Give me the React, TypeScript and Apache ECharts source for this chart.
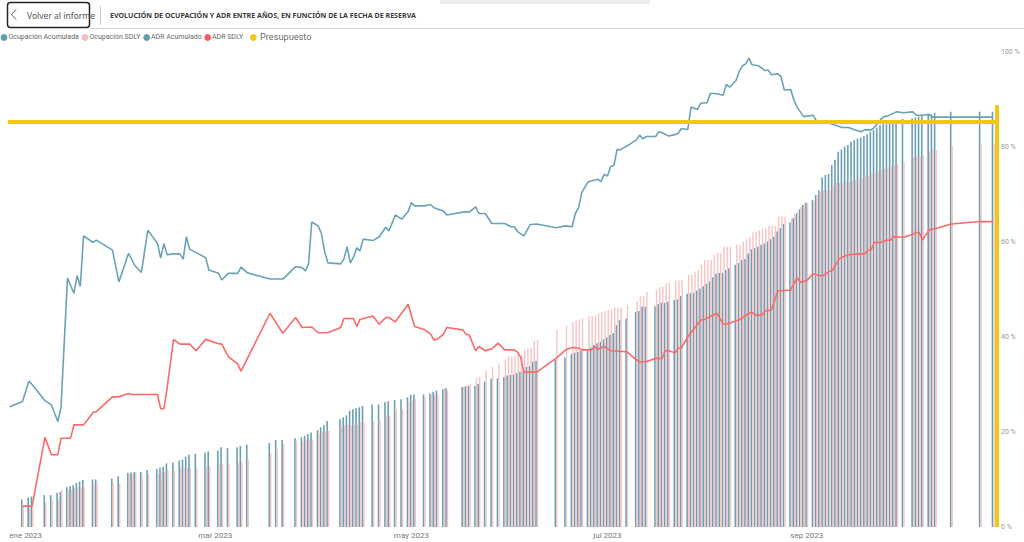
import React, { useEffect, useRef } from "react";
import * as echarts from "echarts";

// ---------- Data ----------
const axisStart = "2022-12-27";
const axisEnd = "2023-10-30";

const barDates = [
  "12-31", "01-02", "01-03", "01-07", "01-09", "01-11", "01-12", "01-14", "01-15", "01-16",
  "01-17", "01-18", "01-19", "01-22", "01-23", "01-28", "01-30", "02-02", "02-03", "02-04",
  "02-06", "02-08", "02-11", "02-12", "02-13", "02-14", "02-16", "02-18", "02-19", "02-20",
  "02-21", "02-23", "02-26", "02-27", "03-02", "03-03", "03-05", "03-08", "03-09", "03-11",
  "03-18", "03-20", "03-22", "03-26", "03-28", "03-29", "03-30", "03-31", "04-02", "04-03",
  "04-04", "04-05", "04-09", "04-10", "04-11", "04-12", "04-13", "04-14", "04-15", "04-16",
  "04-19", "04-21", "04-23", "04-24", "04-26", "04-28", "04-30", "05-01", "05-02", "05-05",
  "05-07", "05-08", "05-09", "05-11", "05-12", "05-17", "05-18", "05-19", "05-21", "05-22",
  "05-24", "05-26", "05-28", "05-30", "05-31", "06-01", "06-02", "06-03", "06-04", "06-05",
  "06-06", "06-07", "06-08", "06-09", "06-15", "06-18", "06-20", "06-21", "06-22", "06-23",
  "06-25", "06-26", "06-27", "06-28", "06-29", "06-30", "07-01", "07-02", "07-03", "07-04",
  "07-05", "07-07", "07-10", "07-11", "07-12", "07-13", "07-16", "07-17", "07-18", "07-19",
  "07-20", "07-22", "07-23", "07-24", "07-26", "07-27", "07-28", "07-29", "07-30", "07-31",
  "08-01", "08-02", "08-03", "08-04", "08-05", "08-06", "08-07", "08-08", "08-10", "08-11",
  "08-12", "08-13", "08-14", "08-15", "08-16", "08-17", "08-18", "08-19", "08-20", "08-21",
  "08-22", "08-23", "08-24", "08-25", "08-27", "08-28", "08-29", "08-30", "08-31", "09-01",
  "09-03", "09-04", "09-05", "09-06", "09-07", "09-08", "09-09", "09-10", "09-11", "09-12",
  "09-13", "09-14", "09-15", "09-16", "09-17", "09-18", "09-19", "09-20", "09-21", "09-22",
  "09-23", "09-24", "09-25", "09-26", "09-27", "09-28", "09-29", "10-01", "10-04", "10-05",
  "10-06", "10-07", "10-09", "10-10", "10-11", "10-16", "10-25", "10-29",
];

const ocupacionAcumulada = [
  5.8, 6.2, 6.4, 6.7, 6.7, 7.2, 7.4, 8.4, 8.6, 8.8,
  9.3, 9.6, 9.9, 10.0, 10.0, 10.2, 10.7, 11.4, 11.5, 11.6,
  11.6, 12.0, 12.2, 12.5, 12.7, 13.4, 13.6, 14.0, 14.2, 14.8,
  15.2, 15.4, 15.7, 15.9, 16.1, 16.8, 16.6, 16.8, 17.1, 17.3,
  17.7, 18.3, 18.3, 18.7, 18.9, 19.2, 19.6, 19.9, 20.4, 21.0,
  21.5, 22.3, 22.7, 23.1, 23.5, 24.5, 24.8, 25.0, 25.2, 25.5,
  25.8, 25.8, 26.3, 26.5, 26.7, 26.9, 27.3, 27.8, 27.9, 27.9,
  28.1, 28.5, 28.7, 29.0, 29.2, 29.5, 29.6, 29.7, 29.7, 30.1,
  30.6, 31.2, 31.3, 31.6, 31.9, 32.0, 32.1, 32.4, 32.7, 32.9,
  33.7, 33.9, 34.8, 35.0, 35.2, 35.7, 36.4, 36.7, 36.9, 37.1,
  37.1, 37.8, 38.3, 38.7, 39.0, 39.5, 39.9, 40.4, 40.8, 42.5,
  43.6, 43.9, 45.3, 45.5, 46.4, 46.4, 46.5, 46.9, 47.2, 47.2,
  47.4, 47.8, 47.9, 48.6, 49.1, 49.2, 49.3, 49.8, 50.2, 50.7,
  51.2, 51.7, 52.6, 53.3, 53.5, 53.5, 54.1, 54.5, 55.2, 55.6,
  56.2, 56.4, 57.6, 58.5, 58.7, 59.0, 59.4, 59.7, 60.1, 60.6,
  61.1, 62.2, 62.9, 63.8, 64.1, 65.0, 66.0, 66.9, 67.8, 68.3,
  68.8, 69.9, 70.9, 73.6, 74.1, 74.3, 76.2, 77.3, 79.0, 79.5,
  80.1, 80.4, 81.1, 81.5, 81.8, 82.0, 82.3, 82.7, 83.2, 83.6,
  84.1, 84.6, 84.8, 84.8, 85.3, 85.3, 85.5, 85.9, 86.0, 86.2,
  86.4, 86.7, 86.9, 86.9, 87.2, 87.4, 87.4, 87.4,
];

const ocupacionSDLY = [
  4.2, 4.3, 4.3, 5.1, 5.7, 5.7, 7.8, 7.8, 7.9, 8.1,
  8.3, 8.3, 8.3, 9.0, 9.0, 9.2, 9.2, 11.1, 11.1, 11.4,
  10.9, 11.1, 11.1, 11.4, 11.6, 12.0, 12.0, 12.5, 12.5, 12.5,
  12.5, 12.6, 12.7, 12.8, 13.2, 13.2, 13.4, 13.5, 13.7, 14.2,
  15.6, 16.4, 17.5, 18.2, 18.2, 18.2, 18.3, 18.4, 19.9, 20.0,
  20.1, 20.2, 21.3, 21.5, 21.5, 21.5, 21.5, 21.5, 22.0, 22.0,
  22.3, 22.5, 23.4, 23.4, 24.8, 24.8, 26.4, 26.7, 26.9, 27.3,
  27.9, 27.9, 27.9, 29.3, 28.7, 29.5, 29.8, 30.1, 31.3, 31.6,
  32.9, 33.7, 34.4, 35.2, 35.9, 35.9, 35.9, 36.2, 36.3, 37.3,
  37.6, 37.8, 39.2, 39.4, 41.5, 42.3, 43.2, 43.4, 43.7, 43.9,
  44.4, 44.4, 44.6, 45.0, 45.3, 45.5, 45.7, 45.8, 46.2, 46.2,
  46.2, 46.7, 47.6, 48.6, 48.6, 49.5, 49.9, 50.5, 50.6, 51.3,
  51.4, 51.9, 51.9, 51.9, 53.1, 53.1, 53.8, 54.1, 55.4, 56.2,
  56.2, 56.2, 57.3, 57.7, 57.7, 59.0, 59.0, 59.0, 59.4, 59.4,
  60.1, 60.6, 61.0, 62.0, 62.2, 62.5, 62.7, 62.9, 63.4, 63.4,
  63.4, 65.3, 65.3, 65.3, 65.0, 66.0, 66.5, 67.4, 68.0, 68.1,
  68.8, 69.9, 70.4, 70.8, 70.9, 70.9, 72.0, 72.4, 72.4, 72.5,
  72.7, 72.7, 72.9, 73.1, 73.2, 73.4, 73.8, 73.9, 74.5, 74.8,
  75.0, 75.2, 75.5, 75.5, 75.9, 76.2, 76.5, 76.9, 77.8, 78.1,
  78.1, 78.3, 79.0, 79.4, 79.5, 80.2, 80.6, 80.8,
];

const adrAcumDates = [
  "12-27", "12-31", "01-02", "01-03", "01-07", "01-09", "01-11", "01-12", "01-14", "01-16",
  "01-17", "01-18", "01-19", "01-22", "01-23", "01-28", "01-30", "02-02", "02-04", "02-06",
  "02-08", "02-11", "02-12", "02-13", "02-14", "02-16", "02-18", "02-19", "02-20", "02-21",
  "02-26", "02-27", "03-02", "03-03", "03-05", "03-08", "03-09", "03-11", "03-18", "03-22",
  "03-26", "03-28", "03-29", "03-30", "03-31", "04-02", "04-03", "04-04", "04-05", "04-09",
  "04-10", "04-11", "04-12", "04-13", "04-14", "04-15", "04-16", "04-19", "04-21", "04-23",
  "04-24", "04-26", "04-28", "04-30", "05-01", "05-02", "05-05", "05-07", "05-08", "05-11",
  "05-12", "05-18", "05-19", "05-21", "05-22", "05-24", "05-26", "05-30", "06-01", "06-02",
  "06-03", "06-05", "06-07", "06-09", "06-15", "06-18", "06-20", "06-21", "06-22", "06-23",
  "06-25", "06-28", "06-29", "06-30", "07-01", "07-02", "07-03", "07-04", "07-05", "07-07",
  "07-10", "07-11", "07-12", "07-13", "07-16", "07-17", "07-18", "07-20", "07-22", "07-23",
  "07-24", "07-26", "07-27", "07-29", "07-30", "08-01", "08-02", "08-04", "08-06", "08-07",
  "08-08", "08-10", "08-11", "08-12", "08-13", "08-14", "08-15", "08-17", "08-19", "08-20",
  "08-21", "08-23", "08-24", "08-25", "08-27", "08-28", "08-29", "08-31", "09-03", "09-04",
  "09-08", "09-10", "09-12", "09-14", "09-16", "09-18", "09-19", "09-21", "09-22", "09-24",
  "09-25", "09-26", "09-29", "10-01", "10-04", "10-05", "10-07", "10-09", "10-10", "10-29",
];

const adrAcumulado = [
  25.3, 26.4, 30.7, 30.0, 26.6, 25.7, 22.2, 25.2, 52.4, 49.2,
  52.9, 50.7, 61.3, 59.9, 60.4, 58.3, 51.6, 57.6, 55.0, 53.6,
  62.5, 59.7, 56.6, 59.7, 57.3, 57.5, 57.5, 56.4, 61.1, 58.5,
  56.7, 54.1, 53.4, 52.0, 53.4, 53.4, 54.7, 53.5, 52.2, 52.2,
  54.8, 54.6, 53.9, 55.4, 64.2, 63.4, 61.8, 58.0, 55.6, 55.4,
  56.4, 59.0, 55.6, 56.8, 58.8, 58.1, 60.6, 60.3, 61.1, 63.1,
  62.3, 65.7, 64.8, 66.4, 68.3, 67.6, 67.6, 67.9, 67.2, 66.5,
  65.7, 66.4, 66.3, 67.4, 66.0, 66.0, 63.9, 63.9, 63.2, 63.2,
  62.2, 61.3, 63.7, 63.8, 63.0, 63.4, 63.2, 66.0, 67.2, 70.4,
  72.7, 73.2, 72.7, 74.3, 73.9, 75.9, 76.1, 79.5, 79.4, 80.2,
  81.5, 82.5, 81.7, 82.2, 82.2, 83.2, 83.0, 82.3, 82.6, 82.9,
  83.9, 83.7, 88.4, 87.9, 89.2, 89.3, 91.3, 91.2, 90.9, 93.2,
  92.6, 94.0, 95.9, 97.1, 97.5, 98.7, 97.3, 97.1, 96.1, 96.2,
  95.2, 95.4, 94.8, 92.0, 92.1, 89.9, 88.4, 86.4, 86.7, 85.5,
  85.0, 84.6, 84.1, 84.1, 83.6, 83.2, 83.6, 83.6, 84.1, 85.8,
  86.4, 86.5, 87.4, 87.2, 87.4, 86.7, 86.7, 86.9, 86.3, 86.3,
];

const adrSdlyDates = [
  "12-31", "01-03", "01-07", "01-09", "01-11", "01-12", "01-15", "01-16", "01-19", "01-22",
  "01-23", "01-28", "01-30", "02-02", "02-03", "02-11", "02-12", "02-13", "02-14", "02-16",
  "02-18", "02-21", "02-23", "02-26", "03-02", "03-03", "03-05", "03-08", "03-09", "03-18",
  "03-22", "03-26", "03-28", "03-31", "04-02", "04-05", "04-09", "04-10", "04-13", "04-14",
  "04-15", "04-19", "04-21", "04-23", "04-24", "04-26", "04-30", "05-02", "05-05", "05-07",
  "05-08", "05-09", "05-11", "05-12", "05-17", "05-18", "05-19", "05-21", "05-22", "05-24",
  "05-26", "05-28", "05-30", "06-02", "06-03", "06-04", "06-05", "06-09", "06-15", "06-18",
  "06-20", "06-22", "06-23", "06-26", "06-27", "06-28", "06-30", "07-02", "07-07", "07-10",
  "07-11", "07-13", "07-16", "07-18", "07-19", "07-20", "07-22", "07-23", "07-24", "07-26",
  "07-27", "07-30", "07-31", "08-02", "08-04", "08-06", "08-08", "08-10", "08-11", "08-14",
  "08-15", "08-16", "08-18", "08-19", "08-21", "08-23", "08-27", "08-29", "08-30", "09-01",
  "09-03", "09-05", "09-06", "09-08", "09-09", "09-11", "09-12", "09-14", "09-17", "09-19",
  "09-20", "09-21", "09-22", "09-24", "09-26", "09-27", "09-28", "10-01", "10-04", "10-05",
  "10-06", "10-07", "10-09", "10-10", "10-11", "10-16", "10-25", "10-29",
];

const adrSdly = [
  4.4, 4.4, 18.9, 15.2, 15.2, 18.7, 18.7, 21.5, 21.5, 24.1,
  24.3, 27.4, 27.4, 28.1, 27.9, 27.9, 24.9, 24.9, 29.2, 39.5,
  38.5, 38.5, 37.1, 39.5, 38.6, 38.5, 35.9, 34.3, 32.8, 45.0,
  40.8, 44.1, 42.0, 42.1, 40.9, 40.9, 42.0, 43.9, 43.9, 42.2,
  43.7, 44.4, 42.7, 44.1, 44.1, 43.2, 46.9, 42.2, 41.6, 40.6,
  39.4, 39.5, 40.6, 42.0, 41.5, 40.6, 40.4, 37.1, 38.0, 37.1,
  37.5, 38.7, 37.3, 37.3, 36.8, 35.7, 32.6, 32.6, 35.5, 37.3,
  37.8, 37.7, 37.3, 37.3, 38.0, 37.4, 38.0, 37.1, 36.9, 35.2,
  34.8, 34.8, 35.5, 35.5, 37.1, 37.1, 36.7, 37.6, 37.7, 40.0,
  40.9, 43.6, 43.6, 44.3, 45.0, 42.7, 42.9, 43.4, 43.6, 45.0,
  45.2, 44.6, 44.6, 45.5, 45.7, 49.7, 49.9, 52.5, 51.5, 51.9,
  53.3, 52.9, 52.9, 53.8, 54.0, 56.4, 56.8, 57.3, 57.5, 57.5,
  58.2, 58.3, 59.9, 59.9, 60.4, 60.3, 61.1, 61.0, 61.6, 62.0,
  62.0, 60.4, 62.5, 62.7, 62.8, 63.8, 64.3, 64.3,
];

const presupuesto = 85.3;
const presupuestoTope = 88.8;

const monthLabels: Record<string, string> = {
  "2023-01-01": "ene 2023",
  "2023-03-01": "mar 2023",
  "2023-05-01": "may 2023",
  "2023-07-01": "jul 2023",
  "2023-09-01": "sep 2023",
};

const seriesNames = ["Ocupación Acumulada", "Ocupación SDLY", "ADR Acumulado", "ADR SDLY", "Presupuesto"];
const legendColors = ["#5f9db2", "#f8bcbc", "#5f9db2", "#f85c5c", "#F2C80F"];
const titleText = "EVOLUCIÓN DE OCUPACIÓN Y ADR ENTRE AÑOS, EN FUNCIÓN DE LA FECHA DE RESERVA";

// ---------- Helpers ----------
const full = (md: string) => (md.startsWith("12-") ? "2022-" : "2023-") + md;

function buildCategories(start: string, end: string): string[] {
  const out: string[] = [];
  const d = new Date(start + "T00:00:00Z");
  const e = new Date(end + "T00:00:00Z");
  while (d.getTime() <= e.getTime()) {
    out.push(d.toISOString().slice(0, 10));
    d.setUTCDate(d.getUTCDate() + 1);
  }
  return out;
}

const C_BLUE = "#6b9fb4";
const C_BLUE_LINE = "#6aa3b7";
const C_PINK = "#f8c3c3";
const C_RED = "#fb6a6a";
const C_YELLOW = "#F2C80F";
const FONT = "Roboto, 'Noto Sans', sans-serif";
const TITLE_FONT = "'Noto Sans', 'DejaVu Sans', sans-serif";

// legend layout: marker centres and text starts
const legendDotX = [4, 85, 146.7, 207.7, 253.3];
const legendTextX = [8.5, 89.5, 151, 212, 260];
const legendDotY = 37.5;

export default function App() {
  const ref = useRef<HTMLDivElement>(null);

  useEffect(() => {
    if (!ref.current) return;
    const chart = echarts.init(ref.current, undefined, { renderer: "svg" });
    const categories = buildCategories(axisStart, axisEnd);

    // legend texts from the ECharts legend (markers drawn separately so they sit tight to the text)
    const legends = seriesNames.map((name, i) => {
      const big = i === 4;
      return {
        left: legendTextX[i] - 5,
        top: big ? 31.7 : 33.2,
        padding: 0,
        itemGap: 0,
        itemWidth: 0,
        itemHeight: 7,
        icon: "none",
        selectedMode: false,
        textStyle: {
          fontSize: big ? 9.2 : 7,
          color: big ? "#6e6e6e" : "#666666",
          fontFamily: FONT,
        },
        data: [name],
      };
    });

    const legendDots = legendDotX.map((cx, i) => ({
      type: "circle",
      shape: { cx, cy: legendDotY, r: 3.4 },
      style: { fill: legendColors[i] },
      silent: true,
    }));

    const option: any = {
      animation: false,
      backgroundColor: "#ffffff",
      textStyle: { fontFamily: FONT },
      legend: legends,
      grid: { left: 8, right: 26, top: 52, bottom: 15, containLabel: false },
      xAxis: {
        type: "category",
        data: categories,
        boundaryGap: true,
        axisLine: { show: false },
        axisTick: { show: false },
        axisLabel: {
          interval: (_i: number, v: string) => v in monthLabels,
          formatter: (v: string) => monthLabels[v] ?? "",
          fontSize: 8,
          color: "#777777",
          margin: 4,
          fontFamily: FONT,
        },
      },
      yAxis: [
        { type: "value", min: 0, max: 100, show: false },
        {
          type: "value",
          position: "right",
          min: 0,
          max: 100,
          interval: 20,
          axisLine: { show: false },
          axisTick: { show: false },
          splitLine: { show: false },
          axisLabel: { formatter: "{value} %", fontSize: 7, color: "#999999", margin: 3, fontFamily: FONT },
        },
      ],
      series: [
        {
          name: seriesNames[0],
          type: "bar",
          yAxisIndex: 1,
          barWidth: 1.6,
          barGap: "0%",
          itemStyle: { color: C_BLUE },
          data: barDates.map((d, i) => [full(d), ocupacionAcumulada[i]]),
          z: 2,
        },
        {
          name: seriesNames[1],
          type: "bar",
          yAxisIndex: 1,
          barWidth: 1.4,
          barGap: "0%",
          itemStyle: { color: C_PINK },
          data: barDates.map((d, i) => [full(d), ocupacionSDLY[i]]),
          z: 2,
        },
        {
          name: seriesNames[2],
          type: "line",
          yAxisIndex: 0,
          showSymbol: false,
          symbol: "circle",
          itemStyle: { color: legendColors[2] },
          lineStyle: { color: C_BLUE_LINE, width: 1.6 },
          data: adrAcumDates.map((d, i) => [full(d), adrAcumulado[i]]),
          z: 4,
        },
        {
          name: seriesNames[3],
          type: "line",
          yAxisIndex: 0,
          showSymbol: false,
          symbol: "circle",
          itemStyle: { color: legendColors[3] },
          lineStyle: { color: C_RED, width: 1.6 },
          data: adrSdlyDates.map((d, i) => [full(d), adrSdly[i]]),
          z: 4,
        },
        {
          name: seriesNames[4],
          type: "line",
          yAxisIndex: 1,
          symbol: "circle",
          itemStyle: { color: C_YELLOW },
          lineStyle: { color: C_YELLOW, width: 4 },
          data: [],
          z: 6,
          markLine: {
            silent: true,
            symbol: ["none", "none"],
            label: { show: false },
            lineStyle: { color: C_YELLOW, width: 4, type: "solid" },
            data: [
              { yAxis: presupuesto },
              [{ coord: [axisEnd, 0] }, { coord: [axisEnd, presupuestoTope] }],
            ],
          },
        },
      ],
      graphic: [
        { type: "rect", shape: { x: 440, y: 0, width: 210, height: 4 }, style: { fill: "rgba(0,0,0,0.07)" }, silent: true },
        { type: "line", shape: { x1: 90, y1: 28.5, x2: 1024, y2: 28.5 }, style: { stroke: "#c9d5db", lineWidth: 1 }, silent: true },
        {
          type: "rect",
          shape: { x: 7.5, y: 2.5, width: 82, height: 25, r: 3 },
          style: { fill: "#ffffff", stroke: "#252423", lineWidth: 1.5 },
          silent: true,
        },
        {
          type: "polyline",
          shape: { points: [[16, 9.5], [11.5, 14.5], [16, 19.5]] },
          style: { stroke: "#555555", lineWidth: 1, fill: "none" },
          silent: true,
        },
        {
          type: "text",
          x: 27,
          y: 15,
          style: { text: "Volver al informe", fontSize: 8.5, fill: "#555555", verticalAlign: "middle", fontFamily: TITLE_FONT },
          silent: true,
        },
        { type: "line", shape: { x1: 100.5, y1: 6, x2: 100.5, y2: 25 }, style: { stroke: "#c8c8c8", lineWidth: 1 }, silent: true },
        {
          type: "text",
          x: 110,
          y: 15,
          style: {
            text: titleText,
            fontSize: 7.1,
            fontWeight: "bold",
            fill: "#3a3a3a",
            verticalAlign: "middle",
            fontFamily: TITLE_FONT,
          },
          silent: true,
        },
        ...legendDots,
      ],
    };

    chart.setOption(option);
    return () => chart.dispose();
  }, []);

  return (
    <div
      ref={ref}
      style={{ position: "fixed", left: 0, top: 0, width: 1024, height: 542, background: "#fff" }}
    />
  );
}
